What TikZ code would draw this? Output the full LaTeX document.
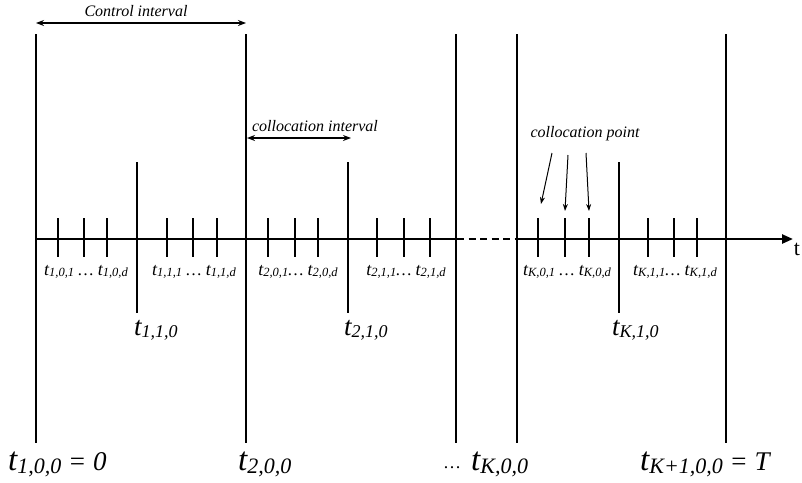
\documentclass[tikz,border=0pt]{standalone}
\usepackage{fontspec}
\setmainfont{Liberation Serif}
\usetikzlibrary{arrows.meta}
\newcommand\tlab[3]{{\fontsize{#1}{#1}\selectfont t\raisebox{-0.1em}{\fontsize{#2}{#2}\selectfont #3}}}
\newcommand\sm[1]{\tlab{18}{12.5}{#1}}
\newcommand\md[1]{\tlab{27}{18}{#1}}
\newcommand\bg[1]{\tlab{33}{22}{#1}}
\begin{document}
\begin{tikzpicture}[x=1pt,y=-1pt,
  major/.style={line width=2.4pt},
  midline/.style={line width=2.2pt},
  tickline/.style={line width=1.8pt},
  axisline/.style={line width=2.4pt},
  dimarrow/.style={line width=1.4pt,{Stealth[length=8pt,width=6pt]}-{Stealth[length=8pt,width=6pt]}},
  ptr/.style={line width=1pt,-{Stealth[length=7pt,width=5pt]}},
  note/.style={inner sep=0pt,font=\fontsize{16}{16}\selectfont\itshape},
  lbl/.style={inner sep=0pt,anchor=base,font=\fontsize{17}{17}\selectfont\itshape},
  lblw/.style={inner sep=0pt,anchor=base west,font=\itshape}]
\useasboundingbox (0,0) rectangle (802,482);
% axis
\coordinate (a0) at (36,239);
\coordinate (a1) at (457,239);
\coordinate (a2) at (517,239);
\coordinate (a3) at (793,239);
\draw[axisline] (a0) -- (a1);
\draw[axisline,dash pattern=on 7pt off 4.5pt] (a1) -- (a2);
\draw[axisline,-{Triangle[length=11pt,width=9pt]}] (a2) -- (a3);
\node[inner sep=0pt,font=\fontsize{22}{22}\selectfont] (tt) at (797,249) {t};
% major lines
\foreach \x/\n in {36/m1,246/m2,456/m3,517/m4,726/m5}{
  \coordinate (\n t) at (\x,34);
  \coordinate (\n b) at (\x,443);
  \draw[major] (\n t) -- (\n b);
}
% collocation boundaries
\foreach \x/\n in {137/c1,348/c2,619/c3}{
  \coordinate (\n t) at (\x,162);
  \coordinate (\n b) at (\x,313);
  \draw[midline] (\n t) -- (\n b);
}
% ticks
\foreach \x [count=\i] in {58,84,107,167,193,217,268,295,318,377,404,430,538,565,589,648,674,697}{
  \coordinate (k\i t) at (\x,218);
  \coordinate (k\i b) at (\x,257);
  \draw[tickline] (k\i t) -- (k\i b);
}
% small labels
\node[lbl] (s1) at (86,275) {\sm{1,0,1} … \sm{1,0,d}};
\node[lbl] (s2) at (194,275) {\sm{1,1,1} … \sm{1,1,d}};
\node[lbl] (s3) at (298,275) {\sm{2,0,1}… \sm{2,0,d}};
\node[lbl] (s4) at (406,275) {\sm{2,1,1}… \sm{2,1,d}};
\node[lbl] (s5) at (567,275) {\sm{K,0,1} … \sm{K,0,d}};
\node[lbl] (s6) at (675,275) {\sm{K,1,1}… \sm{K,1,d}};
% medium labels
\node[lblw] (q1) at (134,335) {\md{1,1,0}};
\node[lblw] (q2) at (344,335) {\md{2,1,0}};
\node[lblw] (q3) at (612,335) {\md{K,1,0}};
% big labels
\node[lblw] (b1) at (8,470) {\bg{1,0,0}\fontsize{27}{27}\selectfont\ =\ 0};
\node[lblw] (b2) at (238,470) {\bg{2,0,0}};
\node[lbl,font=\fontsize{18}{18}\selectfont] (b3) at (452,468) {…};
\node[lblw] (b4) at (471,470) {\bg{K,0,0}};
\node[lblw] (b5) at (640,470) {\bg{K+1,0,0}\fontsize{27}{27}\selectfont\ =\ T};
% control interval
\coordinate (ci1) at (36,23);
\coordinate (ci2) at (246,23);
\draw[dimarrow] (ci1) -- (ci2);
\node[note] (cit) at (136,11) {Control interval};
% collocation interval
\coordinate (co1) at (247,138);
\coordinate (co2) at (351,138);
\draw[dimarrow] (co1) -- (co2);
\node[note] (cot) at (315,126) {collocation interval};
% collocation point
\node[note] (cpt) at (585,134) {collocation point};
\coordinate (p1s) at (552,153);
\coordinate (p1e) at (541,204);
\coordinate (p2s) at (568,155);
\coordinate (p2e) at (565,211);
\coordinate (p3s) at (586,153);
\coordinate (p3e) at (589,211);
\draw[ptr] (p1s) -- (p1e);
\draw[ptr] (p2s) -- (p2e);
\draw[ptr] (p3s) -- (p3e);
\end{tikzpicture}
\end{document}
